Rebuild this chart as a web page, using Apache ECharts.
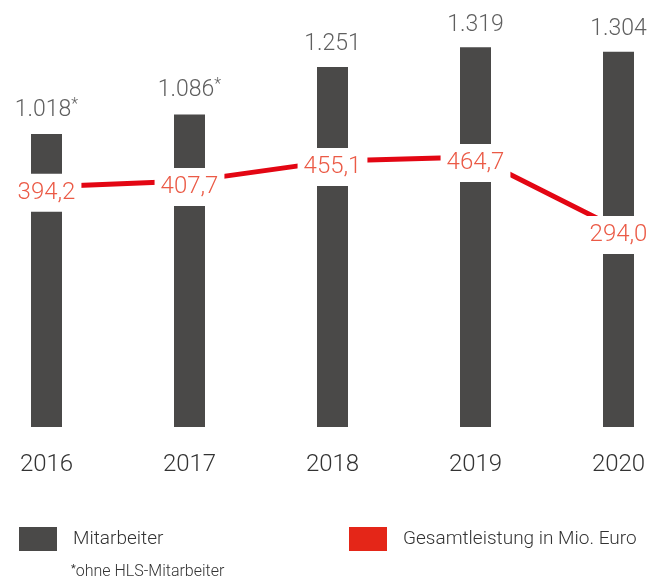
<!DOCTYPE html>
<html>
<head>
<meta charset="utf-8">
<script src="https://cdn.jsdelivr.net/npm/echarts@6/dist/echarts.min.js"></script>
<style>
  html, body { margin: 0; padding: 0; background: #fff; }
  #chart { width: 658px; height: 583px; }
</style>
</head>
<body>
<div id="chart"></div>
<script>
const years = ['2016', '2017', '2018', '2019', '2020']
const mitarbeiter = [1018, 1086, 1251, 1319, 1304]
const starred = [true, true, false, false, false]
const gesamtleistung = [394.2, 407.7, 455.1, 464.7, 294.0]

const FONT = 'Roboto'
const fmtThousands = v => String(v).replace(/\B(?=(\d{3})+(?!\d))/g, '.')
const fmtDecimal = v => v.toFixed(1).replace('.', ',')

const chart = echarts.init(document.getElementById('chart'))

const legendText = { fontFamily: FONT, fontWeight: 300, fontSize: 19, color: '#333', padding: [0, 0, 0, 11] }

chart.setOption({
  backgroundColor: '#fff',
  animation: false,
  grid: { left: 46.5, right: 39.5, top: 24, bottom: 156 },
  legend: [
    {
      left: 19, top: 527, padding: 0,
      itemWidth: 38, itemHeight: 24,
      icon: 'rect',
      data: ['Mitarbeiter'],
      textStyle: legendText
    },
    {
      left: 349, top: 527, padding: 0,
      itemWidth: 38, itemHeight: 24,
      icon: 'rect',
      data: [{ name: 'Gesamtleistung in Mio. Euro', itemStyle: { color: '#e42618' } }],
      textStyle: legendText
    }
  ],
  xAxis: {
    type: 'category',
    data: years,
    boundaryGap: false,
    axisLine: { show: false },
    axisTick: { show: false },
    axisLabel: { margin: 26, fontFamily: FONT, fontWeight: 300, fontSize: 24, color: '#333' }
  },
  yAxis: [
    { type: 'value', min: 0, max: 1400, show: false },
    { type: 'value', min: -175, max: 780, show: false }
  ],
  graphic: [
    {
      type: 'text',
      left: 71, top: 564,
      style: {
        text: '{s|*}ohne HLS-Mitarbeiter',
        fontFamily: FONT, fontWeight: 300, fontSize: 16, fill: '#333',
        rich: { s: { fontFamily: FONT, fontSize: 11, verticalAlign: 'top', fill: '#333' } }
      }
    }
  ],
  series: [
    {
      name: 'Mitarbeiter',
      type: 'bar',
      barWidth: 31,
      clip: false,
      itemStyle: { color: '#4a4948' },
      data: mitarbeiter,
      label: {
        show: true,
        position: 'top',
        distance: 11,
        fontFamily: FONT, fontWeight: 300, fontSize: 23, color: '#5f5f5f',
        formatter: p => fmtThousands(p.value) + (starred[p.dataIndex] ? '{s|*}' : ''),
        rich: { s: { fontFamily: FONT, fontWeight: 300, fontSize: 16, color: '#5f5f5f', verticalAlign: 'top', padding: [0, 0, 10, 0] } }
      },
      z: 2
    },
    {
      name: 'Gesamtleistung in Mio. Euro',
      type: 'line',
      yAxisIndex: 1,
      data: gesamtleistung,
      showSymbol: true,
      symbol: 'circle',
      symbolSize: 0,
      lineStyle: { color: '#e30613', width: 5 },
      itemStyle: { color: '#e30613' },
      label: {
        show: true,
        position: 'inside',
        offset: [0, 6],
        formatter: p => fmtDecimal(p.value),
        fontFamily: FONT, fontWeight: 300, fontSize: 24, color: '#eb5a46',
        backgroundColor: '#fff',
        lineHeight: 26,
        padding: [6, 6]
      },
      z: 3
    }
  ]
})
</script>
</body>
</html>
